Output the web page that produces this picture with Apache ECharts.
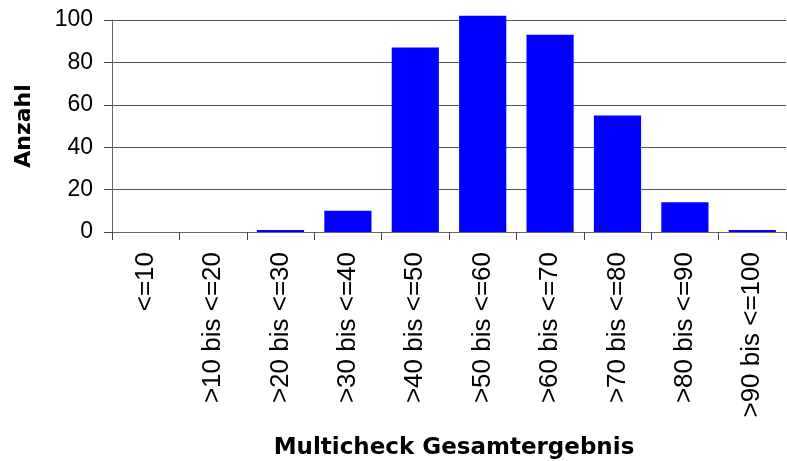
<!DOCTYPE html>
<html>
<head>
<meta charset="utf-8">
<script src="https://cdn.jsdelivr.net/npm/echarts@6/dist/echarts.min.js"></script>
<style>
  html, body { margin: 0; padding: 0; background: #fff; }
  #chart { width: 787px; height: 461px; }
</style>
</head>
<body>
<div id="chart"></div>
<script>
const categories = ['<=10', '>10 bis <=20', '>20 bis <=30', '>30 bis <=40', '>40 bis <=50',
  '>50 bis <=60', '>60 bis <=70', '>70 bis <=80', '>80 bis <=90', '>90 bis <=100']
const counts = [0, 0, 1, 10, 87, 102, 93, 55, 14, 1]
const yTicks = [0, 20, 40, 60, 80, 100]

const chart = echarts.init(document.getElementById('chart'))

const option = {
  animation: false,
  title: {
    text: 'Multicheck Gesamtergebnis',
    left: 449,
    textAlign: 'center',
    top: 432,
    textStyle: { fontFamily: 'DejaVu Sans', fontSize: 23, fontWeight: 'bold', color: '#000' }
  },
  grid: { left: 112, right: 1, top: 20, bottom: 229 },
  xAxis: {
    type: 'category',
    data: categories,
    axisLine: { lineStyle: { color: '#666', width: 1 } },
    axisTick: { show: true, length: 8, lineStyle: { color: '#444' } },
    axisLabel: {
      rotate: 90,
      interval: 0,
      margin: 20,
      color: '#000',
      fontFamily: 'Liberation Sans',
      fontSize: 26
    }
  },
  yAxis: {
    type: 'value',
    min: yTicks[0],
    max: yTicks[yTicks.length - 1],
    interval: 20,
    name: 'Anzahl',
    nameLocation: 'middle',
    nameGap: 77,
    nameRotate: 90,
    nameTextStyle: { fontFamily: 'DejaVu Sans', fontSize: 22, fontWeight: 'bold', color: '#000' },
    axisLine: { show: true, lineStyle: { color: '#666', width: 1 } },
    axisTick: { show: true, length: 8, lineStyle: { color: '#444' } },
    axisLabel: { margin: 19, color: '#000', fontFamily: 'Liberation Sans', fontSize: 23 },
    splitLine: { lineStyle: { color: '#555', width: 1 } }
  },
  series: [
    {
      type: 'bar',
      data: counts,
      barCategoryGap: '30%',
      clip: false,
      itemStyle: { color: '#0000ff' }
    }
  ]
}
chart.setOption(option)
</script>
</body>
</html>
